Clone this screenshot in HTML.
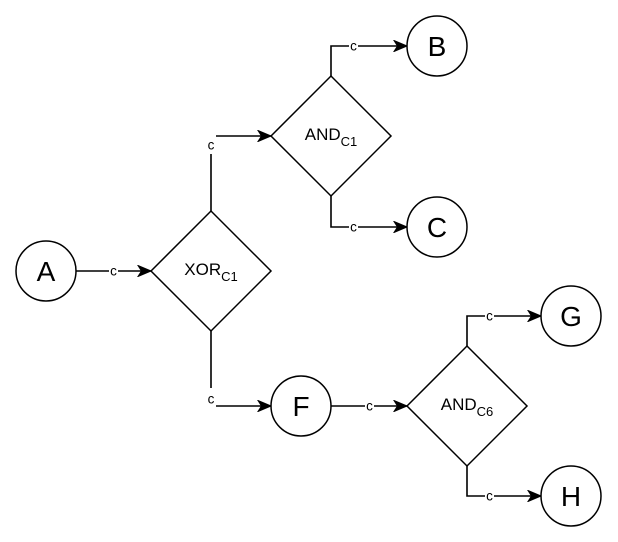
<!DOCTYPE html>
<html>
<head>
<meta charset="utf-8">
<style>
  html, body { margin: 0; padding: 0; background: #ffffff; }
  svg { display: block; }
  text { font-family: "Liberation Sans", Arial, sans-serif; fill: #000; }
</style>
</head>
<body>
<svg width="618" height="542" viewBox="0 0 618 542" xmlns="http://www.w3.org/2000/svg">
  <defs>
    <marker id="arr" markerUnits="userSpaceOnUse" markerWidth="16" markerHeight="12" refX="14" refY="6" orient="auto">
      <path d="M14,6 L1,0.5 L4.5,6 L1,11.5 Z" fill="#000" stroke="#000" stroke-width="1"/>
    </marker>
  </defs>

  <g fill="none" stroke="#000" stroke-width="1.6">
    <path d="M76,271 L151,271" marker-end="url(#arr)"/>
    <path d="M211,211 L211,136 L271,136" marker-end="url(#arr)"/>
    <path d="M211,331 L211,406 L271,406" marker-end="url(#arr)"/>
    <path d="M331,76 L331,46 L407,46" marker-end="url(#arr)"/>
    <path d="M331,196 L331,227 L407,227" marker-end="url(#arr)"/>
    <path d="M331,406 L407,406" marker-end="url(#arr)"/>
    <path d="M467,346 L467,316 L541,316" marker-end="url(#arr)"/>
    <path d="M467,466 L467,496 L541,496" marker-end="url(#arr)"/>
  </g>

  <g fill="#fff" stroke="none">
    <rect x="109" y="264" width="9" height="14"/>
    <rect x="205" y="134" width="11" height="20"/>
    <rect x="205" y="388" width="11" height="20"/>
    <rect x="349" y="39" width="9" height="14"/>
    <rect x="349" y="220" width="9" height="14"/>
    <rect x="365" y="399" width="9" height="14"/>
    <rect x="485" y="309" width="9" height="14"/>
    <rect x="485" y="489" width="9" height="14"/>
  </g>
  <g font-size="13.5" text-anchor="middle">
    <text x="113.5" y="275.5">c</text>
    <text x="211" y="149.5">c</text>
    <text x="211" y="403.5">c</text>
    <text x="353.5" y="50.5">c</text>
    <text x="353.5" y="231.5">c</text>
    <text x="369.5" y="410.5">c</text>
    <text x="489.5" y="320.5">c</text>
    <text x="489.5" y="500.5">c</text>
  </g>

  <g fill="#fff" stroke="#000" stroke-width="1.5">
    <circle cx="46" cy="271" r="30"/>
    <circle cx="437" cy="46" r="30"/>
    <circle cx="437" cy="227" r="30"/>
    <circle cx="301" cy="406" r="30"/>
    <circle cx="571" cy="316" r="30"/>
    <circle cx="571" cy="496" r="30"/>
    <polygon points="151,271 211,211 271,271 211,331"/>
    <polygon points="271,136 331,76 391,136 331,196"/>
    <polygon points="407,406 467,346 527,406 467,466"/>
  </g>

  <g font-size="28" text-anchor="middle">
    <text x="46" y="281">A</text>
    <text x="437" y="56">B</text>
    <text x="437" y="237">C</text>
    <text x="301" y="416">F</text>
    <text x="571" y="326">G</text>
    <text x="571" y="506">H</text>
  </g>

  <g font-size="17" text-anchor="middle">
    <text x="211" y="275">XOR<tspan font-size="13" dy="6">C1</tspan></text>
    <text x="331" y="140">AND<tspan font-size="13" dy="6">C1</tspan></text>
    <text x="467" y="410">AND<tspan font-size="13" dy="6">C6</tspan></text>
  </g>
</svg>
</body>
</html>
